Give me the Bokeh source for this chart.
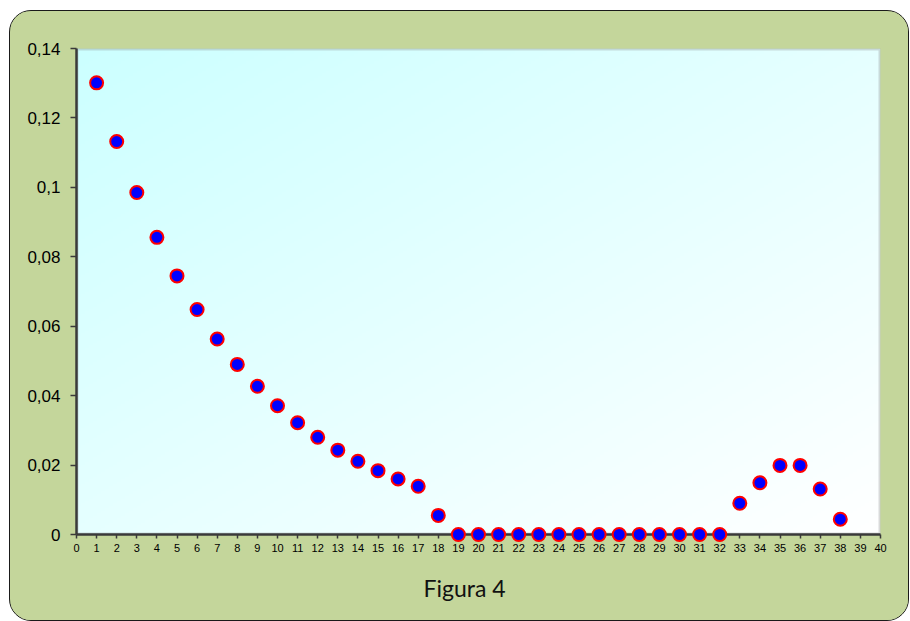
import numpy as np
from bokeh.plotting import figure
from bokeh.models import Range1d, FixedTicker, BoxAnnotation, Title, CustomJSTickFormatter, GridBox
from bokeh.embed import file_html
from bokeh.resources import INLINE

# Series values
x_vals = list(range(1, 39))
y_vals = [
    0.1301, 0.1132, 0.0985, 0.0856, 0.0745, 0.0648, 0.0563, 0.0490, 0.0427, 0.0371,
    0.0322, 0.0280, 0.0243, 0.0211, 0.0184, 0.0160, 0.0139, 0.0055,
    0.0, 0.0, 0.0, 0.0, 0.0, 0.0, 0.0, 0.0, 0.0, 0.0, 0.0, 0.0, 0.0, 0.0,
    0.0090, 0.0149, 0.0199, 0.0199, 0.0131, 0.0044,
]

# Axis ticks
x_ticks = list(range(0, 41))
y_ticks = [0.0, 0.02, 0.04, 0.06, 0.08, 0.10, 0.12, 0.14]
caption = "Figura 4"

X_MAX = 40
Y_MAX = 0.14
PANEL = "#c4d69b"

W, H = 898, 609
LEFT, RIGHT, TOP, BOTTOM = 66, 28, 37, 86
FRAME_W = W - LEFT - RIGHT
FRAME_H = H - TOP - BOTTOM

# ---- base chart: background, gradient, axes, caption ----
p = figure(
    width=W, height=H,
    output_backend="svg", toolbar_location=None,
    x_range=Range1d(0, X_MAX), y_range=Range1d(0, Y_MAX),
    min_border_left=LEFT, min_border_right=RIGHT,
    min_border_top=TOP, min_border_bottom=BOTTOM,
)
p.frame_align = False
p.border_fill_color = PANEL
p.background_fill_alpha = 0
p.outline_line_color = None
p.grid.visible = False

# Diagonal gradient inside the plot area: cyan top-left to white bottom-right
N, M = 200, 200
jj, ii = np.meshgrid(np.arange(M), np.arange(N))
t = (jj / (M - 1) + (1 - ii / (N - 1))) / 2.0
r = (204 + 51 * t).astype(np.uint32)
g = np.full_like(r, 255)
b = np.full_like(r, 255)
a = np.full_like(r, 255)
img = (a << 24) | (b << 16) | (g << 8) | r
p.image_rgba(image=[img.astype(np.uint32)], x=0, y=0, dw=X_MAX, dh=Y_MAX, level="image")

# Grey border along the top and right of the plot area
p.add_layout(BoxAnnotation(
    left=0, right=X_MAX, bottom=0, top=Y_MAX,
    fill_alpha=0, line_color="#868686", line_width=4, level="underlay",
))

p.xaxis.ticker = FixedTicker(ticks=x_ticks)
p.xaxis.minor_tick_line_color = None
p.xaxis.major_tick_in = 0
p.xaxis.major_tick_out = 4
p.xaxis.major_label_standoff = 5
p.xaxis.major_label_text_font = "Liberation Sans"
p.xaxis.major_label_text_font_size = "11px"
p.xaxis.major_label_text_color = "black"

p.yaxis.ticker = FixedTicker(ticks=y_ticks)
p.yaxis.minor_tick_line_color = None
p.yaxis.major_tick_in = 0
p.yaxis.major_tick_out = 6
p.yaxis.major_label_standoff = 10
p.yaxis.major_label_text_font = "Liberation Sans"
p.yaxis.major_label_text_font_size = "17px"
p.yaxis.major_label_text_color = "black"
p.yaxis.formatter = CustomJSTickFormatter(
    code="if (Math.abs(tick) < 1e-9) { return '0'; } return String(+tick.toFixed(2)).replace('.', ',');"
)

for ax in (p.xaxis, p.yaxis):
    ax.axis_line_color = "#3a3a3a"
    ax.axis_line_width = 2.5
    ax.major_tick_line_color = "#3a3a3a"
    ax.major_tick_line_width = 1.5

p.add_layout(Title(
    text=caption, align="left", offset=347, standoff=35,
    text_font="Lato", text_font_size="23px", text_font_style="normal",
    text_color="#111111",
), "below")

# ---- marker layer: same scale, larger frame so markers on the axes are not cut ----
PAD = 20
sx = X_MAX / FRAME_W
sy = Y_MAX / FRAME_H
q = figure(
    width=W, height=H,
    output_backend="svg", toolbar_location=None,
    x_axis_location=None, y_axis_location=None,
    x_range=Range1d(-PAD * sx, X_MAX + PAD * sx),
    y_range=Range1d(-PAD * sy, Y_MAX + PAD * sy),
    min_border_left=LEFT - PAD, min_border_right=RIGHT - PAD,
    min_border_top=TOP - PAD, min_border_bottom=BOTTOM - PAD,
)
q.frame_align = False
q.border_fill_alpha = 0
q.background_fill_alpha = 0
q.outline_line_color = None
q.grid.visible = False
q.scatter(
    x=x_vals, y=y_vals, size=13,
    fill_color="#0000ff", line_color="#ff0000", line_width=2,
)

# Rounded olive card holding both layers in one grid cell
card = GridBox(children=[(p, 0, 0), (q, 0, 0)])
card.margin = (10, 0, 0, 9)
card.styles = {
    "border": "1px solid #1a1a1a",
    "border-radius": "22px",
    "overflow": "hidden",
    "background-color": PANEL,
}

open("out.html", "w").write(file_html(card, INLINE))
